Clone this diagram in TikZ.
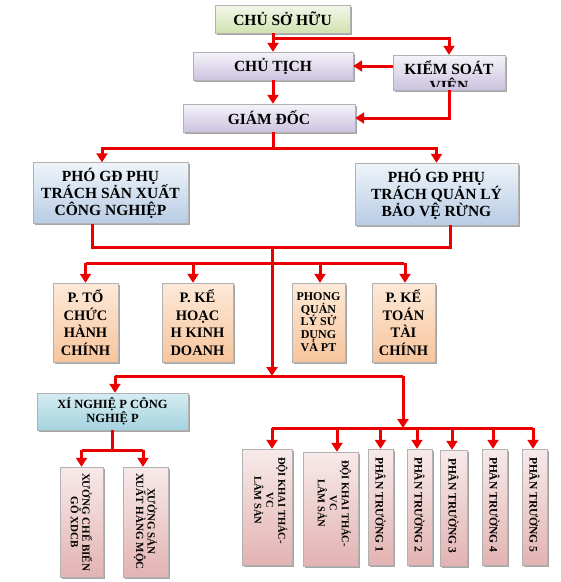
\documentclass[tikz,border=0pt]{standalone}
\usepackage{fontspec}
\setmainfont{Liberation Serif}
\usetikzlibrary{arrows.meta,shadows,calc}
\definecolor{arrred}{RGB}{235,0,0}
\definecolor{gtop}{HTML}{F3F7EA}\definecolor{gbot}{HTML}{D2E1B0}
\definecolor{ltop}{HTML}{F5F3F9}\definecolor{lbot}{HTML}{CCC3DF}
\definecolor{btop}{HTML}{EFF4FA}\definecolor{bbot}{HTML}{B8CCE4}
\definecolor{ptop}{HTML}{FDE9D9}\definecolor{pbot}{HTML}{F7C59C}
\definecolor{ttop}{HTML}{D5ECF2}\definecolor{tbot}{HTML}{A5D3DF}
\definecolor{ktop}{HTML}{F8EAEA}\definecolor{kbot}{HTML}{E2B3B2}
\begin{document}
\begin{tikzpicture}[x=1pt,y=-1pt,
  box/.style={draw=black!30, line width=0.4pt, inner sep=0pt, align=center,
    drop shadow={shadow xshift=1.8pt,shadow yshift=-1.8pt,opacity=0.35,fill=black}},
  gbox/.style={box, top color=gtop, bottom color=gbot},
  lbox/.style={box, top color=ltop, bottom color=lbot},
  bbox/.style={box, top color=btop, bottom color=bbot},
  pbox/.style={box, top color=ptop, bottom color=pbot},
  tbox/.style={box, top color=ttop, bottom color=tbot},
  kbox/.style={box, top color=ktop, bottom color=kbot},
  big/.style={font=\bfseries\fontsize{15.5}{17}\selectfont},
  mid/.style={font=\bfseries\fontsize{14.5}{17.5}\selectfont},
  vtext/.style={inner sep=0pt, align=center, rotate=-90, anchor=west},
  conn/.style={draw=arrred, line width=3pt},
  arr/.style={conn, -{Triangle[width=11pt,length=9pt]}},
]
\useasboundingbox (0,0) rectangle (561,582);

% top level
\node[gbox, big, minimum width=135pt, minimum height=28pt] (owner) at (282.5,19) {CHỦ SỞ HỮU};
\node[lbox, big, minimum width=160pt, minimum height=28pt] (chutich) at (273,66) {CHỦ TỊCH};
\node[lbox, minimum width=112pt, minimum height=35pt] (ksv) at (449,72.5) {};
\begin{scope}
  \clip ([yshift=3.5pt]ksv.south west) rectangle (ksv.north east);
  \node[big, inner sep=0pt, align=center, anchor=north] (ksvt) at ([yshift=-6pt]ksv.north) {KIỂM SOÁT\\VIÊN};
\end{scope}
\node[lbox, big, minimum width=172pt, minimum height=28pt] (giamdoc) at (269,118) {GIÁM ĐỐC};

\node[bbox, big, minimum width=155pt, minimum height=61pt] (pgd1) at (110.5,193) {PHÓ GĐ PHỤ\\TRÁCH SẢN XUẤT\\CÔNG NGHIỆP};
\node[bbox, big, minimum width=163pt, minimum height=62pt] (pgd2) at (436.5,194) {PHÓ GĐ PHỤ\\TRÁCH QUẢN LÝ\\BẢO VỆ RỪNG};

% departments
\node[pbox, mid, minimum width=65pt, minimum height=79pt] (d1) at (85.5,322.5) {P. TỔ\\CHỨC\\HÀNH\\CHÍNH};
\node[pbox, mid, minimum width=71pt, minimum height=79pt] (d2) at (197.5,322.5) {P. KẾ\\HOẠC\\H KINH\\DOANH};
\node[pbox, font=\bfseries\fontsize{12}{12.5}\selectfont, minimum width=53pt, minimum height=79pt] (d3) at (318.5,322.5) {PHONG\\QUẢN\\LÝ SỬ\\DỤNG\\VÀ PT};
\node[pbox, mid, minimum width=63pt, minimum height=79pt] (d4) at (403.5,322.5) {P. KẾ\\TOÁN\\TÀI\\CHÍNH};

% enterprise
\node[tbox, font=\bfseries\fontsize{12.5}{14}\selectfont, minimum width=151pt, minimum height=37pt] (xn) at (112.5,411.5) {XÍ NGHIỆ P CÔNG\\NGHIỆ P};
\node[kbox, minimum width=43pt, minimum height=110pt] (x1) at (81.5,522) {};
\node[kbox, minimum width=45pt, minimum height=110pt] (x2) at (145.5,522) {};
\node[vtext, font=\bfseries\fontsize{11}{11.5}\selectfont] at ([yshift=-6pt]x1.north) {XƯỞNG CHẾ BIẾN\\GỖ XDCB};
\node[vtext, font=\bfseries\fontsize{11}{11.5}\selectfont] at ([yshift=-6pt]x2.north) {XƯỞNG SẢN\\XUẤT HÀNG MỘC};

% forestry units
\node[kbox, minimum width=50pt, minimum height=116pt] (b1) at (267,507) {};
\node[kbox, minimum width=55pt, minimum height=114pt] (b2) at (330.5,509) {};
\node[kbox, minimum width=25pt, minimum height=116pt] (b3) at (380.5,507) {};
\node[kbox, minimum width=25pt, minimum height=116pt] (b4) at (419.5,507) {};
\node[kbox, minimum width=27pt, minimum height=116pt] (b5) at (453.5,508) {};
\node[kbox, minimum width=25pt, minimum height=116pt] (b6) at (494.5,507) {};
\node[kbox, minimum width=25pt, minimum height=116pt] (b7) at (534.5,507) {};
\node[vtext, font=\bfseries\fontsize{10.5}{12}\selectfont] at ([yshift=-8pt, xshift=4pt]b1.north) {ĐỘI KHAI THÁC-\\VC\\LÂM SẢN};
\node[vtext, font=\bfseries\fontsize{10.5}{12}\selectfont] at ([yshift=-8pt, xshift=4pt]b2.north) {ĐỘI KHAI THÁC-\\VC\\LÂM SẢN};
\foreach \b/\n in {b3/1,b4/2,b5/3,b6/4,b7/5}
  \node[vtext, font=\bfseries\fontsize{11.5}{12}\selectfont] at ([yshift=-8pt]\b.north) {PHÂN TRƯỜNG \n};

% junction coordinates
\coordinate (j1) at (273,38);
\coordinate (j2) at (273,148);
\coordinate (j3) at (272,247);
\coordinate (j4) at (272,263);
\coordinate (j5) at (272,376);
\coordinate (j5r) at (403,376);
\coordinate (j6) at (403,428);
\coordinate (j7) at (113,450);

% connectors
\draw[arr] (chutich.north |- owner.south) -- (chutich.north);
\draw[arr] (j1) -| (ksv.north);
\draw[arr] (ksv.west |- chutich.east) -- (chutich.east);
\draw[arr] (ksv.south) |- (giamdoc.east);
\draw[arr] (chutich.south) -- (chutich.south |- giamdoc.north);
\draw[conn] (j2 |- giamdoc.south) -- (j2);
\draw[arr] (j2) -| ([xshift=-8.5pt]pgd1.north);
\draw[arr] (j2) -| (pgd2.north);
\draw[conn] ([xshift=-18.5pt]pgd1.south) |- (j3) -| ([xshift=13.5pt]pgd2.south);
\draw[arr] (j3) -- (j5);
\draw[conn] (d1.north |- j4) -- (d4.north |- j4);
\draw[arr] (d1.north |- j4) -- (d1.north);
\draw[arr] ([xshift=-4.5pt]d2.north |- j4) -- ([xshift=-4.5pt]d2.north);
\draw[arr] ([xshift=1.5pt]d3.north |- j4) -- ([xshift=1.5pt]d3.north);
\draw[arr] ([xshift=1.5pt]d4.north |- j4) -- ([xshift=1.5pt]d4.north);
\draw[conn] ([xshift=2.5pt]xn.north |- j5) -- (j5r);
\draw[arr] ([xshift=2.5pt]xn.north |- j5) -- ([xshift=2.5pt]xn.north);
\draw[arr] (j5r) -- (j6);
\draw[conn] ([xshift=5pt]b1.north |- j6) -- ([xshift=-1.5pt]b7.north |- j6);
\draw[arr] ([xshift=5pt]b1.north |- j6) -- ([xshift=5pt]b1.north);
\draw[arr] ([xshift=6.5pt]b2.north |- j6) -- ([xshift=6.5pt]b2.north);
\draw[arr] (b3.north |- j6) -- (b3.north);
\draw[arr] ([xshift=-2.5pt]b4.north |- j6) -- ([xshift=-2.5pt]b4.north);
\draw[arr] ([xshift=-1.5pt]b5.north |- j6) -- ([xshift=-1.5pt]b5.north);
\draw[arr] ([xshift=-1.5pt]b6.north |- j6) -- ([xshift=-1.5pt]b6.north);
\draw[arr] ([xshift=-1.5pt]b7.north |- j6) -- ([xshift=-1.5pt]b7.north);
\draw[conn] (xn.south) -- (xn.south |- j7);
\draw[conn] (x1.north |- j7) -- ([xshift=-2.5pt]x2.north |- j7);
\draw[arr] (x1.north |- j7) -- (x1.north);
\draw[arr] ([xshift=-2.5pt]x2.north |- j7) -- ([xshift=-2.5pt]x2.north);
\end{tikzpicture}
\end{document}
